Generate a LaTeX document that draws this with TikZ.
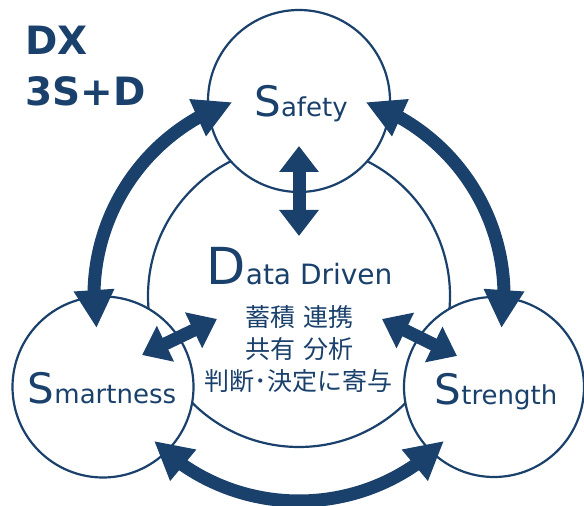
\documentclass[tikz,border=0pt]{standalone}
\usepackage{fontspec}
\setmainfont{DejaVu Sans}
\newfontfamily\jpfont{Noto Sans CJK JP}
\usetikzlibrary{arrows.meta,bending}
\definecolor{navy}{RGB}{26,64,108}

\begin{document}
\begin{tikzpicture}[x=1pt,y=1pt,
  ring/.style={circle, draw=navy, line width=2.2pt, fill=white,
               minimum size=#1, inner sep=0pt},
  bigarrow/.style={draw=navy, line width=13pt,
    {Triangle[width=38pt,length=38pt]}-{Triangle[width=38pt,length=38pt]}},
  smallarrow/.style={draw=navy, line width=13pt,
    {Triangle[width=38pt,length=26pt]}-{Triangle[width=38pt,length=26pt]}},
  txt/.style={text=navy, anchor=base, inner sep=0pt},
  jp/.style={txt, font=\jpfont\fontsize{25}{25}\selectfont},
]
\useasboundingbox (0,0) rectangle (584,506);
\fill[white] (0,0) rectangle (584,506);

% the hub circle and the three pillars around it
\coordinate (hub) at (299,210);
\node[ring=302pt] (data) at (hub) {};
\node[ring=182pt] (safety) at (299,405) {};
\node[ring=181pt] (smart) at (103,119) {};
\node[ring=180pt] (strength) at (494,119) {};

% outer ring of two-way arrows
\draw[bigarrow] (hub) ++(189:205) arc[start angle=189, end angle=109, radius=205];
\draw[bigarrow] (hub) ++(71:205) arc[start angle=71, end angle=-9, radius=205];
\draw[bigarrow] (hub) ++(225:205) arc[start angle=225, end angle=315, radius=205];

% short two-way arrows between the hub and each pillar
\coordinate (sfA) at (299,360);
\coordinate (sfB) at (299,270);
\coordinate (smA) at (142,151);
\coordinate (smB) at (217,187);
\coordinate (stA) at (382,187);
\coordinate (stB) at (457,150);
\draw[smallarrow] (sfA) -- (sfB);
\draw[smallarrow] (smA) -- (smB);
\draw[smallarrow] (stA) -- (stB);

% labels
\node[txt] (tSafety) at (301,389)
  {{\fontsize{42}{42}\selectfont S}{\fontsize{26}{26}\selectfont afety}};
\node[txt] (tSmart) at (102,102)
  {{\fontsize{42}{42}\selectfont S}{\fontsize{26}{26}\selectfont martness}};
\node[txt] (tStrength) at (496,101)
  {{\fontsize{42}{42}\selectfont S}{\fontsize{26}{26}\selectfont trength}};
\node[txt] (tData) at (299.5,221)
  {{\fontsize{51}{51}\selectfont D}{\fontsize{28}{28}\selectfont ata Driven}};

\node[jp] (j1) at (299.5,179) {蓄積\hspace{0.3em}連携};
\node[jp] (j2) at (299.5,147) {共有\hspace{0.3em}分析};
\node[jp] (j3) at (298.5,115) {判断･決定に寄与};

% corner title
\node[txt, anchor=base west, font=\bfseries\fontsize{39}{39}\selectfont] (dx) at (25,451) {DX};
\node[txt, anchor=base west, font=\bfseries\fontsize{39}{39}\selectfont] (ssd) at (25,400) {3S+D};
\end{tikzpicture}
\end{document}
